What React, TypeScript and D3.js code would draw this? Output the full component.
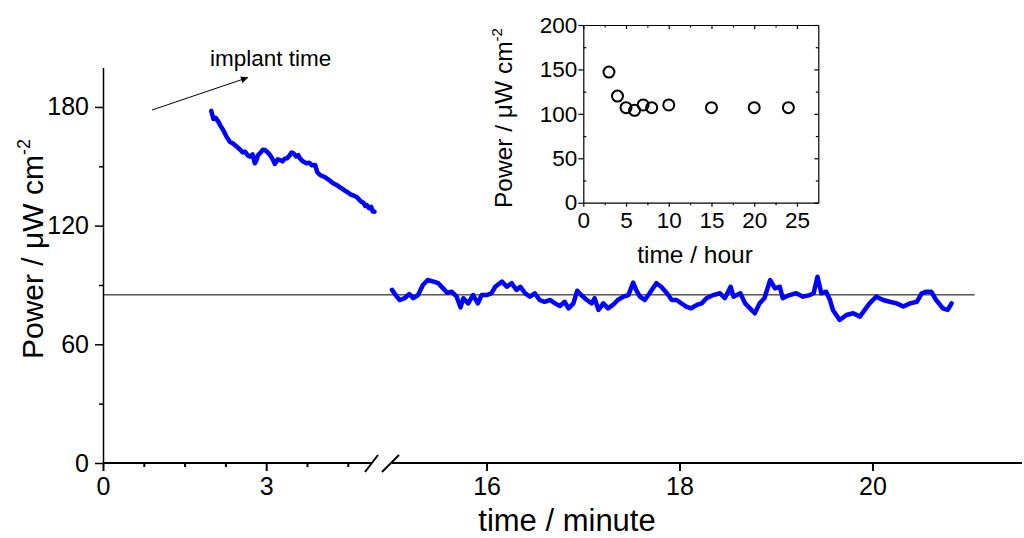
import { useEffect, useRef } from 'react';
import * as d3 from 'd3';

// early trace, minutes 2-5 after implant
const earlyTime = [1.99, 2.03, 2.07, 2.12, 2.17, 2.21, 2.27, 2.33, 2.39, 2.46, 2.52, 2.57, 2.61, 2.66, 2.70, 2.75, 2.79, 2.82, 2.85, 2.90, 2.94, 2.98, 3.03, 3.07, 3.12, 3.16, 3.21, 3.25, 3.30, 3.34, 3.38, 3.43, 3.47, 3.50, 3.55, 3.59, 3.62, 3.67, 3.71, 3.74, 3.79, 3.84, 3.90, 3.94, 3.99, 4.04, 4.08, 4.11, 4.16, 4.21, 4.26, 4.30, 4.35, 4.40, 4.44, 4.48, 4.53, 4.57, 4.62, 4.66, 4.70, 4.75, 4.79, 4.82, 4.85, 4.89, 4.93, 4.96, 4.99];
const earlyPower = [178.0, 173.9, 174.5, 172.6, 170.0, 168.4, 165.0, 162.4, 161.5, 159.9, 158.5, 157.0, 157.4, 155.5, 154.9, 156.0, 151.5, 153.0, 155.7, 157.0, 158.4, 158.2, 157.0, 155.7, 153.5, 151.2, 153.5, 153.2, 152.5, 153.8, 154.0, 155.5, 157.0, 156.6, 155.0, 155.6, 154.0, 152.6, 152.0, 151.5, 151.8, 150.5, 150.7, 147.0, 145.6, 145.0, 144.5, 143.9, 143.0, 141.8, 141.0, 140.5, 139.5, 138.6, 137.8, 137.2, 136.2, 135.5, 135.0, 134.6, 133.4, 132.0, 131.5, 130.0, 130.4, 128.8, 129.5, 127.2, 127.0];

// later trace, minutes 15-21
const lateTime = [15.02, 15.07, 15.10, 15.15, 15.20, 15.24, 15.29, 15.34, 15.39, 15.45, 15.50, 15.55, 15.59, 15.64, 15.69, 15.73, 15.76, 15.81, 15.86, 15.91, 15.95, 16.00, 16.05, 16.09, 16.16, 16.21, 16.26, 16.31, 16.35, 16.40, 16.45, 16.50, 16.55, 16.60, 16.66, 16.71, 16.76, 16.81, 16.85, 16.90, 16.94, 16.98, 17.04, 17.09, 17.12, 17.16, 17.21, 17.26, 17.31, 17.36, 17.42, 17.47, 17.52, 17.55, 17.59, 17.64, 17.69, 17.76, 17.81, 17.87, 17.92, 17.97, 18.02, 18.07, 18.12, 18.18, 18.23, 18.28, 18.35, 18.42, 18.47, 18.53, 18.56, 18.63, 18.68, 18.73, 18.78, 18.83, 18.88, 18.94, 18.99, 19.04, 19.07, 19.14, 19.21, 19.28, 19.35, 19.39, 19.43, 19.47, 19.52, 19.56, 19.59, 19.66, 19.73, 19.80, 19.87, 19.92, 19.97, 20.04, 20.11, 20.18, 20.25, 20.32, 20.39, 20.46, 20.51, 20.56, 20.61, 20.66, 20.73, 20.78, 20.82];
const latePower = [87.5, 84.1, 82.4, 83.3, 85.4, 83.3, 84.9, 90.0, 92.5, 91.7, 90.9, 88.3, 86.1, 86.6, 84.1, 78.7, 83.3, 80.7, 84.9, 80.7, 84.9, 84.9, 85.8, 89.1, 91.7, 89.1, 90.9, 87.5, 89.1, 85.8, 84.1, 85.8, 82.4, 81.5, 82.4, 80.7, 79.4, 81.5, 78.2, 80.7, 87.1, 84.9, 82.4, 80.7, 83.3, 77.4, 80.7, 78.2, 79.9, 82.4, 84.1, 84.9, 91.2, 87.5, 84.1, 82.4, 85.8, 90.9, 89.1, 85.8, 82.4, 82.4, 80.7, 79.1, 78.2, 79.9, 80.7, 83.3, 84.9, 85.8, 83.3, 89.1, 84.1, 85.8, 80.7, 78.2, 75.7, 80.7, 83.3, 92.5, 88.3, 89.1, 83.3, 84.9, 85.8, 84.1, 84.9, 85.8, 94.2, 85.8, 86.6, 82.4, 77.4, 72.3, 74.8, 75.7, 74.0, 77.4, 80.7, 84.1, 82.4, 81.5, 80.7, 79.1, 80.7, 81.5, 85.8, 86.6, 86.6, 82.4, 78.2, 77.4, 80.7];

const refLevel = 85;

// inset: hourly measurements
const hourTime = [3, 4, 5, 6, 7, 8, 10, 15, 20, 24];
const hourPower = [147, 120, 107, 104, 110, 107, 110, 107, 107, 107];

const yTicks = [0, 60, 120, 180];
const yMinor = [30, 90, 150];
const leftTicks = [0, 3];
const leftMinor = [0.75, 1.5, 2.25, 3.75, 4.5];
const rightTicks = [16, 18, 20];
const insetXTicks = [0, 5, 10, 15, 20, 25];
const insetXMinor = [2.5, 7.5, 12.5, 17.5, 22.5];
const insetYTicks = [0, 50, 100, 150, 200];
const insetYMinor = [25, 75, 125, 175];

const FONT = 'Liberation Sans, Arial, sans-serif';

function App() {
  const svgRef = useRef<SVGSVGElement>(null);

  useEffect(() => {
    const svg = d3.select(svgRef.current);
    svg.selectAll('*').remove();
    const fmt = d3.format('d');

    const y = d3.scaleLinear().domain([0, 200]).range([463, 67.4]);
    const xL = d3.scaleLinear().domain([0, 5]).range([103, 375]);
    const xR = d3.scaleLinear().domain([15.02, 21.55]).range([392, 1022]);
    const y0 = y(0);

    // y axis
    const ya = svg.append('g').attr('transform', 'translate(103,0)');
    ya.call(d3.axisLeft(y).tickValues(yTicks).tickSize(8).tickSizeOuter(0).tickPadding(6).tickFormat(fmt as any) as any);
    ya.append('g').call(d3.axisLeft(y).tickValues(yMinor).tickSize(4).tickFormat(() => '') as any)
      .select('.domain').remove();
    ya.selectAll('path, line').attr('stroke', '#000').attr('stroke-width', 1.5);
    ya.selectAll('text').attr('font-size', 25).attr('font-family', FONT).attr('fill', '#000');

    // bottom broken axis
    const xa = svg.append('g').attr('transform', `translate(0,${y0})`);
    xa.append('g').call(d3.axisBottom(xL).tickValues(leftTicks).tickSize(8).tickPadding(6).tickFormat(fmt as any) as any);
    xa.append('g').call(d3.axisBottom(xL).tickValues(leftMinor).tickSize(4).tickFormat(() => '') as any);
    xa.append('g').call(d3.axisBottom(xR).tickValues(rightTicks).tickSize(8).tickPadding(6).tickFormat(fmt as any) as any);
    xa.selectAll('.domain').remove();
    xa.selectAll('line').attr('stroke', '#000').attr('stroke-width', 2);
    xa.selectAll('text').attr('font-size', 25).attr('font-family', FONT).attr('fill', '#000');
    xa.append('line').attr('x1', xL(0)).attr('x2', xL(4.94)).attr('stroke', '#000').attr('stroke-width', 2.2);
    xa.append('line').attr('x1', xR(15.02)).attr('x2', xR(21.55)).attr('stroke', '#000').attr('stroke-width', 2.2);
    // break marks
    [[365, 378], [382, 399]].forEach(([a, b]) => {
      xa.append('line').attr('x1', a).attr('y1', 9).attr('x2', b).attr('y2', -8)
        .attr('stroke', '#000').attr('stroke-width', 2);
    });

    // reference level
    svg.append('line')
      .attr('x1', xL(0)).attr('x2', xR(21.06))
      .attr('y1', y(refLevel)).attr('y2', y(refLevel))
      .attr('stroke', '#000').attr('stroke-width', 1);

    const lineL = d3.line<number>().x((_, i) => xL(earlyTime[i])).y(d => y(d));
    const lineR = d3.line<number>().x((_, i) => xR(lateTime[i])).y(d => y(d));
    svg.append('path').attr('d', lineL(earlyPower))
      .attr('fill', 'none').attr('stroke', '#0000ff').attr('stroke-width', 4.5)
      .attr('stroke-linejoin', 'round').attr('stroke-linecap', 'round');
    svg.append('path').attr('d', lineR(latePower))
      .attr('fill', 'none').attr('stroke', '#0000ff').attr('stroke-width', 4.5)
      .attr('stroke-linejoin', 'round').attr('stroke-linecap', 'round');

    // labels
    svg.append('text').attr('x', 567).attr('y', 531).attr('text-anchor', 'middle')
      .attr('font-size', 31).attr('font-family', FONT).text('time / minute');
    const yl = svg.append('text').attr('transform', 'translate(43,359) rotate(-90)')
      .attr('font-size', 30).attr('font-family', FONT);
    yl.append('tspan').text('Power / \u03bcW cm');
    yl.append('tspan').attr('font-size', 18).attr('dy', -13).text('-2');

    // annotation arrow
    svg.append('defs').append('marker').attr('id', 'arr')
      .attr('viewBox', '0 0 10 10').attr('refX', 10).attr('refY', 5)
      .attr('markerWidth', 10).attr('markerHeight', 7).attr('markerUnits', 'userSpaceOnUse')
      .attr('orient', 'auto')
      .append('path').attr('d', 'M0,0L10,5L0,10z').attr('fill', '#000');
    svg.append('line').attr('x1', 152).attr('y1', 110).attr('x2', 248).attr('y2', 77.5)
      .attr('stroke', '#000').attr('stroke-width', 1).attr('marker-end', 'url(#arr)');
    svg.append('text').attr('x', 210).attr('y', 66).attr('font-size', 22.5)
      .attr('font-family', FONT).text('implant time');

    // inset
    const xi = d3.scaleLinear().domain([0, 27.5]).range([583.3, 818.3]);
    const yi = d3.scaleLinear().domain([0, 200]).range([202.7, 25]);
    const ins = svg.append('g');
    const ib = ins.append('g').attr('transform', 'translate(0,202.7)');
    ib.call(d3.axisBottom(xi).tickValues(insetXTicks).tickSize(4).tickSizeOuter(0).tickPadding(5) as any);
    ib.append('g').call(d3.axisBottom(xi).tickValues(insetXMinor).tickSize(2.5).tickFormat(() => '') as any)
      .select('.domain').remove();
    const il = ins.append('g').attr('transform', 'translate(583.3,0)');
    il.call(d3.axisLeft(yi).tickValues(insetYTicks).tickSize(5).tickSizeOuter(0).tickPadding(1) as any);
    il.append('g').call(d3.axisLeft(yi).tickValues(insetYMinor).tickSize(-3).tickFormat(() => '') as any)
      .select('.domain').remove();
    const ir = ins.append('g').attr('transform', 'translate(818.3,0)');
    ir.call(d3.axisRight(yi).tickValues(insetYTicks).tickSize(-4).tickSizeOuter(0).tickFormat(() => '') as any);
    ir.append('g').call(d3.axisRight(yi).tickValues(insetYMinor).tickSize(-2.5).tickFormat(() => '') as any)
      .select('.domain').remove();
    const it = ins.append('g').attr('transform', 'translate(0,25)');
    it.call(d3.axisTop(xi).tickValues(insetXTicks).tickSize(-4).tickSizeOuter(0).tickFormat(() => '') as any);
    it.append('g').call(d3.axisTop(xi).tickValues(insetXMinor).tickSize(-2.5).tickFormat(() => '') as any)
      .select('.domain').remove();
    ins.selectAll('path, line').attr('stroke', '#000').attr('stroke-width', 1.2);
    ins.selectAll('text').attr('font-size', 22.5).attr('font-family', FONT).attr('fill', '#000');

    ins.selectAll('circle.pt').data(hourPower).enter().append('circle')
      .attr('class', 'pt')
      .attr('cx', (_, i) => xi(hourTime[i]))
      .attr('cy', d => yi(d))
      .attr('r', 5.5)
      .attr('fill', 'none').attr('stroke', '#000').attr('stroke-width', 2);

    svg.append('text').attr('x', 695).attr('y', 263).attr('text-anchor', 'middle')
      .attr('font-size', 24.5).attr('font-family', FONT).text('time / hour');
    const iyl = svg.append('text').attr('transform', 'translate(512,208) rotate(-90)')
      .attr('font-size', 24.5).attr('font-family', FONT);
    iyl.append('tspan').text('Power / \u03bcW cm');
    iyl.append('tspan').attr('font-size', 15).attr('dy', -10).text('-2');
  }, []);

  return (
    <div className='Graph'>
      <svg ref={svgRef} width={1024} height={538}
        style={{ position: 'absolute', left: 0, top: 0, background: '#fff' }} />
    </div>
  );
}

export default App;
